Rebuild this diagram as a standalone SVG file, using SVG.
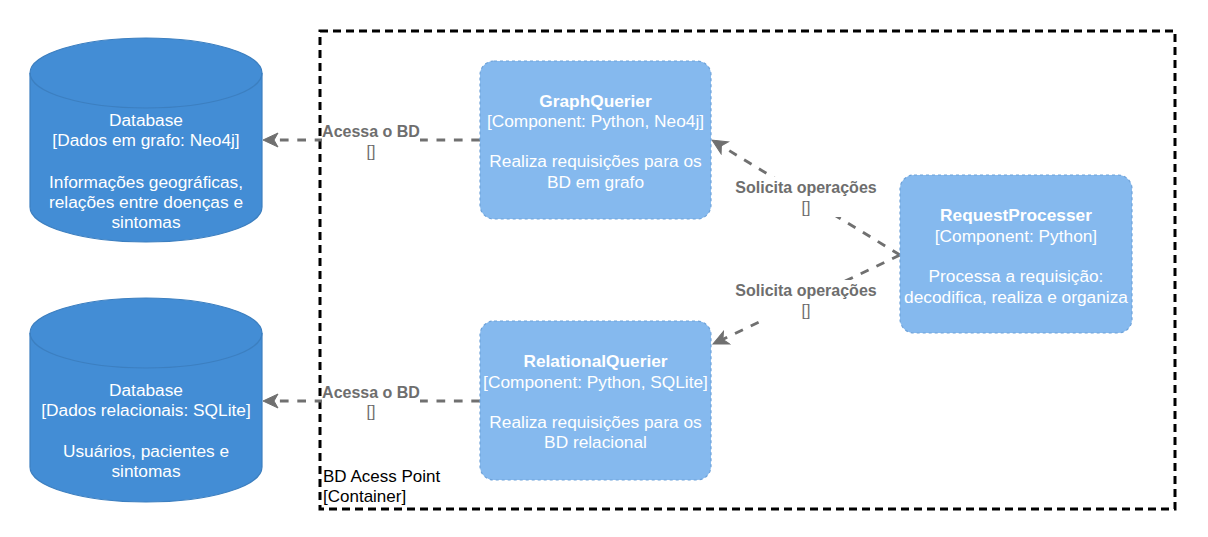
<svg xmlns="http://www.w3.org/2000/svg" width="1208" height="537" viewBox="0 0 1208 537">
<defs>
<style>
.db{fill:#438DD5;stroke:#3C7FC0;stroke-width:1.2}
.comp{fill:#85B9EE;stroke:#6FA3DA;stroke-width:1.2;stroke-dasharray:3 3}
.t{font-family:"Liberation Sans",Arial,sans-serif;font-size:17.3px;fill:#ffffff;text-anchor:middle}
.b{font-weight:bold}
.edge{fill:none;stroke:#707070;stroke-width:2.9;stroke-dasharray:8.7 8.7}
.lbl{font-family:"Liberation Sans",Arial,sans-serif;font-size:16px;fill:#6E6E6E;text-anchor:middle}
.lb{fill:#ffffff}
.ct{font-family:"Liberation Sans",Arial,sans-serif;font-size:17px;fill:#000000}
</style>
<marker id="arr" markerUnits="userSpaceOnUse" viewBox="-16 -9 25 18" markerWidth="25" markerHeight="18" refX="-8" refY="0" orient="auto">
<path d="M0,0 L-15,-7 L-11,0 L-15,7 Z" fill="#707070" stroke="#707070" stroke-width="1" stroke-linejoin="miter"/>
</marker>
</defs>
<rect width="1208" height="537" fill="#ffffff"/>

<g id="container">
<rect x="320" y="31" width="855" height="478" fill="none" stroke="#000000" stroke-width="3" stroke-dasharray="8 5"/>
<text class="ct" x="323" y="482">BD Acess Point</text>
<text class="ct" x="323" y="502">[Container]</text>
</g>

<g id="connectors">
<path class="edge" d="M480,140 L271,140" marker-end="url(#arr)"/>
<path class="edge" d="M480,401 L271,401" marker-end="url(#arr)"/>
<path class="edge" d="M900,255 L718.8,144.2" marker-end="url(#arr)"/>
<path class="edge" d="M900,255 L720.2,340.6" marker-end="url(#arr)"/>
<rect class="lb" x="322" y="122" width="98" height="38"/>
<text class="lbl b" x="371" y="137">Acessa o BD</text>
<text class="lbl" x="371" y="157">[]</text>
<rect class="lb" x="322" y="383" width="98" height="38"/>
<text class="lbl b" x="371" y="398">Acessa o BD</text>
<text class="lbl" x="371" y="417">[]</text>
<rect class="lb" x="736" y="177" width="140" height="40"/>
<text class="lbl b" x="806" y="193">Solicita operações</text>
<text class="lbl" x="806" y="213">[]</text>
<rect class="lb" x="736" y="280" width="140" height="40"/>
<text class="lbl b" x="806" y="296">Solicita operações</text>
<text class="lbl" x="806" y="316">[]</text>
</g>

<g id="db-neo4j">
<path class="db" d="M30,73 A116,35 0 0 1 262,73 L262,207 A116,35 0 0 1 30,207 Z"/>
<path d="M30,73 A116,35 0 0 0 262,73" fill="none" stroke="#3C7FC0" stroke-width="1.2"/>
<text class="t" x="146" y="126">Database</text>
<text class="t" x="146" y="146">[Dados em grafo: Neo4j]</text>
<text class="t" x="146" y="188">Informações geográficas,</text>
<text class="t" x="146" y="208">relações entre doenças e</text>
<text class="t" x="146" y="228">sintomas</text>
</g>

<g id="db-sqlite">
<path class="db" d="M30,333 A116,35 0 0 1 262,333 L262,467 A116,35 0 0 1 30,467 Z"/>
<path d="M30,333 A116,35 0 0 0 262,333" fill="none" stroke="#3C7FC0" stroke-width="1.2"/>
<text class="t" x="146" y="396">Database</text>
<text class="t" x="146" y="416">[Dados relacionais: SQLite]</text>
<text class="t" x="146" y="457">Usuários, pacientes e</text>
<text class="t" x="146" y="477">sintomas</text>
</g>

<g id="graph-querier">
<rect class="comp" x="480" y="61" width="231" height="158" rx="14" ry="14"/>
<text class="t b" x="595.5" y="107">GraphQuerier</text>
<text class="t" x="595.5" y="127">[Component: Python, Neo4j]</text>
<text class="t" x="595.5" y="167">Realiza requisições para os</text>
<text class="t" x="595.5" y="188">BD em grafo</text>
</g>

<g id="relational-querier">
<rect class="comp" x="480" y="321" width="231" height="159" rx="14" ry="14"/>
<text class="t b" x="595.5" y="367">RelationalQuerier</text>
<text class="t" x="595.5" y="388">[Component: Python, SQLite]</text>
<text class="t" x="595.5" y="428">Realiza requisições para os</text>
<text class="t" x="595.5" y="448">BD relacional</text>
</g>

<g id="request-processer">
<rect class="comp" x="900" y="175" width="232" height="158" rx="14" ry="14"/>
<text class="t b" x="1016" y="221">RequestProcesser</text>
<text class="t" x="1016" y="242">[Component: Python]</text>
<text class="t" x="1016" y="282">Processa a requisição:</text>
<text class="t" x="1016" y="303">decodifica, realiza e organiza</text>
</g>
</svg>
